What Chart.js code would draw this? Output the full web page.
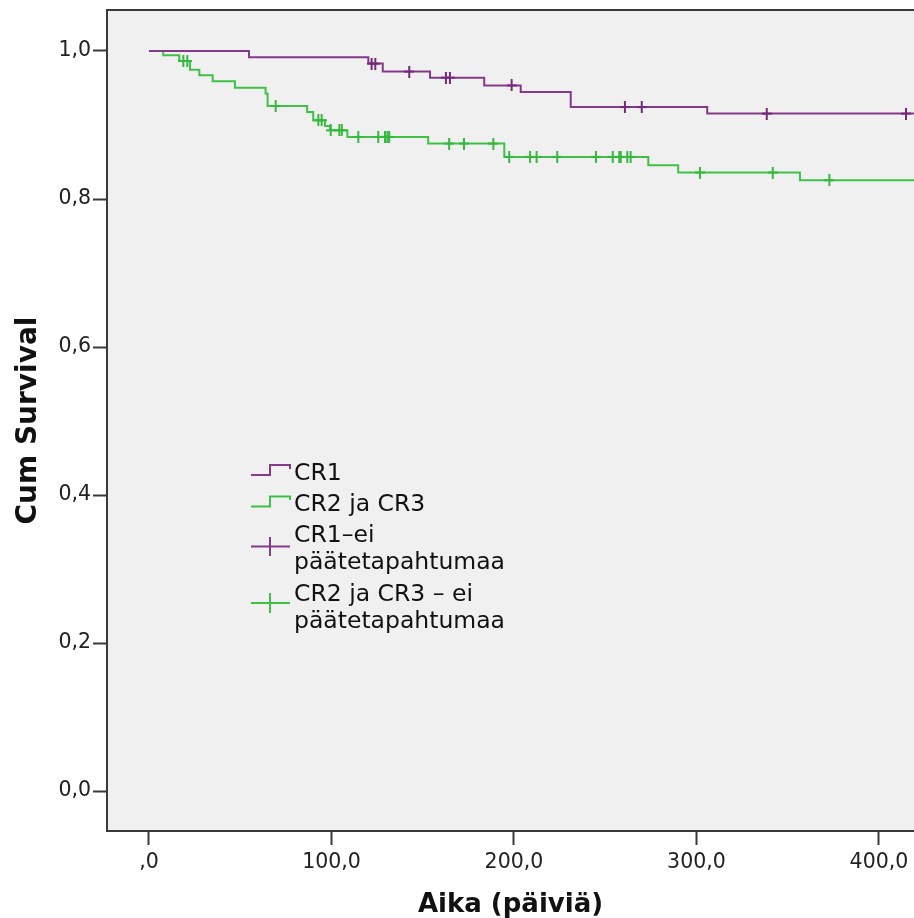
<!DOCTYPE html>
<html>
<head>
<meta charset="utf-8">
<script src="https://cdn.jsdelivr.net/npm/chart.js@4/dist/chart.umd.min.js"></script>
<style>
html,body{margin:0;padding:0;background:#ffffff;}
#wrap{width:914px;height:918px;position:relative;}
</style>
</head>
<body>
<div id="wrap"><canvas id="c" width="914" height="918"></canvas></div>
<script>
// ---- Data (Kaplan-Meier curves) ----
const cr1EventTimes   = [0, 54.8, 120.2, 128.1, 154.0, 183.7, 203.7, 231.1, 305.9, 420];
const cr1Survival     = [1.0, 0.9915, 0.983, 0.9722, 0.964, 0.9535, 0.9446, 0.9243, 0.9154, 0.9154];
const cr1CensorTimes  = [122.0, 124.0, 142.6, 162.7, 164.9, 198.7, 260.8, 270.0, 338.5, 414.8];

const cr23EventTimes  = [0, 7.8, 16.6, 22.5, 27.6, 34.9, 47.1, 63.9, 65.0, 86.7, 90.0, 96.4, 99.2, 108.7, 153.0, 194.7, 273.6, 290.0, 356.7, 420];
const cr23Survival    = [1.0, 0.9942, 0.9865, 0.9748, 0.9671, 0.959, 0.9505, 0.9424, 0.9257, 0.9176, 0.9064, 0.8987, 0.8929, 0.8839, 0.875, 0.8569, 0.8457, 0.8358, 0.8254, 0.8254];
const cr23CensorTimes = [18.8, 21.0, 69.4, 92.8, 94.6, 99.6, 104.3, 105.6, 114.7, 125.6, 129.3, 130.6, 131.6,
                         164.5, 172.6, 188.7, 197.4, 208.8, 212.4, 223.7, 244.9, 254.1, 257.7, 258.5, 262.1, 263.9,
                         301.9, 341.8, 372.8];

const seriesLabels = ['CR1', 'CR2 ja CR3'];
const censorLabels = [['CR1\u2013ei', 'päätetapahtumaa'], ['CR2 ja CR3 \u2013 ei', 'päätetapahtumaa']];

const xTickValues = [0, 100, 200, 300, 400];
const xTickLabels = [',0', '100,0', '200,0', '300,0', '400,0'];
const yTickValues = [0, 0.2, 0.4, 0.6, 0.8, 1.0];
const yTickLabels = ['0,0', '0,2', '0,4', '0,6', '0,8', '1,0'];

const xTitle = 'Aika (päiviä)';
const yTitle = 'Cum Survival';

// ---- Styling ----
const PURPLE = '#843a87';
const PURPLE_MARK = '#74297a';
const GREEN = '#3fc046';
const GREEN_MARK = '#36b83e';
const AXIS = '#3a3a3a';
const FONT = 'DejaVu Sans';

function stepValue(times, surv, t) {
  let s = surv[0];
  for (let i = 0; i < times.length; i++) { if (times[i] <= t) s = surv[i]; }
  return s;
}

function crossImg(color) {
  const c = document.createElement('canvas');
  c.width = 10; c.height = 12;
  const g = c.getContext('2d');
  g.fillStyle = color;
  g.fillRect(4, 0, 2, 12);
  g.fillRect(0, 5, 10, 2);
  return c;
}

const bgPlugin = {
  id: 'bg',
  beforeDraw(chart) {
    const {ctx, chartArea: a} = chart;
    ctx.save();
    ctx.fillStyle = '#f0f0f0';
    ctx.fillRect(a.left, a.top, a.right - a.left, a.bottom - a.top);
    ctx.restore();
  },
  afterDraw(chart) {
    const {ctx, chartArea: a} = chart;
    ctx.save();
    ctx.strokeStyle = AXIS;
    ctx.lineWidth = 2;
    ctx.beginPath();
    ctx.moveTo(a.left - 1, a.top);
    ctx.lineTo(a.right, a.top);
    ctx.stroke();
    ctx.restore();
  }
};

const legendPlugin = {
  id: 'kmLegend',
  afterDatasetsDraw(chart) {
    const ctx = chart.ctx;
    const x0 = 251, xm = 270, x1 = 290, tx = 294;
    ctx.save();
    ctx.lineWidth = 2;
    ctx.lineCap = 'butt';
    const steps = [[PURPLE, 475, 465, 469], [GREEN, 506.5, 496.5, 500]];
    steps.forEach(([col, lo, hi, end]) => {
      ctx.strokeStyle = col;
      ctx.beginPath();
      ctx.moveTo(x0, lo); ctx.lineTo(xm, lo); ctx.lineTo(xm, hi); ctx.lineTo(x1, hi); ctx.lineTo(x1, end);
      ctx.stroke();
    });
    const crosses = [[PURPLE, 546.5, 537, 556], [GREEN, 603, 593, 613]];
    crosses.forEach(([col, yh, v0, v1]) => {
      ctx.strokeStyle = col;
      ctx.beginPath();
      ctx.moveTo(x0, yh); ctx.lineTo(x1, yh);
      ctx.moveTo(xm, v0); ctx.lineTo(xm, v1);
      ctx.stroke();
    });
    ctx.fillStyle = '#111';
    ctx.font = '23.5px "' + FONT + '"';
    ctx.textAlign = 'left';
    ctx.textBaseline = 'alphabetic';
    ctx.fillText(seriesLabels[0], tx, 480);
    ctx.fillText(seriesLabels[1], tx, 510.5);
    ctx.fillText(censorLabels[0][0], tx, 541.5);
    ctx.fillText(censorLabels[0][1], tx, 569);
    ctx.fillText(censorLabels[1][0], tx, 600.5);
    ctx.fillText(censorLabels[1][1], tx, 627.5);
    ctx.restore();
  }
};

new Chart(document.getElementById('c'), {
  type: 'line',
  data: {
    datasets: [
      {
        label: seriesLabels[0],
        data: cr1EventTimes.map((t, i) => ({x: t, y: cr1Survival[i]})),
        borderColor: PURPLE, borderWidth: 2, stepped: 'before',
        pointRadius: 0, fill: false, order: 2
      },
      {
        label: seriesLabels[1],
        data: cr23EventTimes.map((t, i) => ({x: t, y: cr23Survival[i]})),
        borderColor: GREEN, borderWidth: 2, stepped: 'before',
        pointRadius: 0, fill: false, order: 3
      },
      {
        type: 'scatter',
        label: censorLabels[0].join(' '),
        data: cr1CensorTimes.map(t => ({x: t, y: stepValue(cr1EventTimes, cr1Survival, t)})),
        pointStyle: crossImg(PURPLE_MARK), pointRadius: 6, showLine: false, order: 0
      },
      {
        type: 'scatter',
        label: censorLabels[1].join(' '),
        data: cr23CensorTimes.map(t => ({x: t, y: stepValue(cr23EventTimes, cr23Survival, t)})),
        pointStyle: crossImg(GREEN_MARK), pointRadius: 6, showLine: false, order: 1
      }
    ]
  },
  options: {
    responsive: false,
    animation: false,
    events: [],
    layout: {autoPadding: false, padding: {top: 10, right: 0, bottom: 0, left: 0}},
    plugins: {legend: {display: false}, tooltip: {enabled: false}},
    scales: {
      x: {
        type: 'linear', min: -23, max: 419.2,
        afterBuildTicks: s => { s.ticks = xTickValues.map(v => ({value: v})); },
        afterFit: s => { s.height = 87; s.paddingLeft = 0; s.paddingRight = 0; },
        ticks: {
          callback: (v, i) => xTickLabels[i],
          font: {family: FONT, size: 20.5}, color: '#222', padding: 5,
          maxRotation: 0, autoSkip: false
        },
        grid: {drawOnChartArea: false, drawTicks: true, tickLength: 14, tickColor: AXIS, tickWidth: 2},
        border: {display: true, color: AXIS, width: 2},
        title: {display: true, text: xTitle, font: {family: FONT, size: 26, weight: 'bold', lineHeight: 1},
                color: '#111', padding: {top: 0, bottom: 0}}
      },
      y: {
        type: 'linear', min: -0.054, max: 1.0554,
        afterBuildTicks: s => { s.ticks = yTickValues.map(v => ({value: v})); },
        afterFit: s => { s.width = 107; s.paddingTop = 0; s.paddingBottom = 0; },
        ticks: {
          callback: (v, i) => yTickLabels[i],
          font: {family: FONT, size: 20.5}, color: '#222', padding: 2, autoSkip: false
        },
        grid: {drawOnChartArea: false, drawTicks: true, tickLength: 14, tickColor: AXIS, tickWidth: 2},
        border: {display: true, color: AXIS, width: 2},
        title: {display: true, text: yTitle, font: {family: FONT, size: 28, weight: 'bold', lineHeight: 1},
                color: '#111', padding: {top: 15, bottom: 0}}
      }
    }
  },
  plugins: [bgPlugin, legendPlugin]
});
</script>
</body>
</html>
